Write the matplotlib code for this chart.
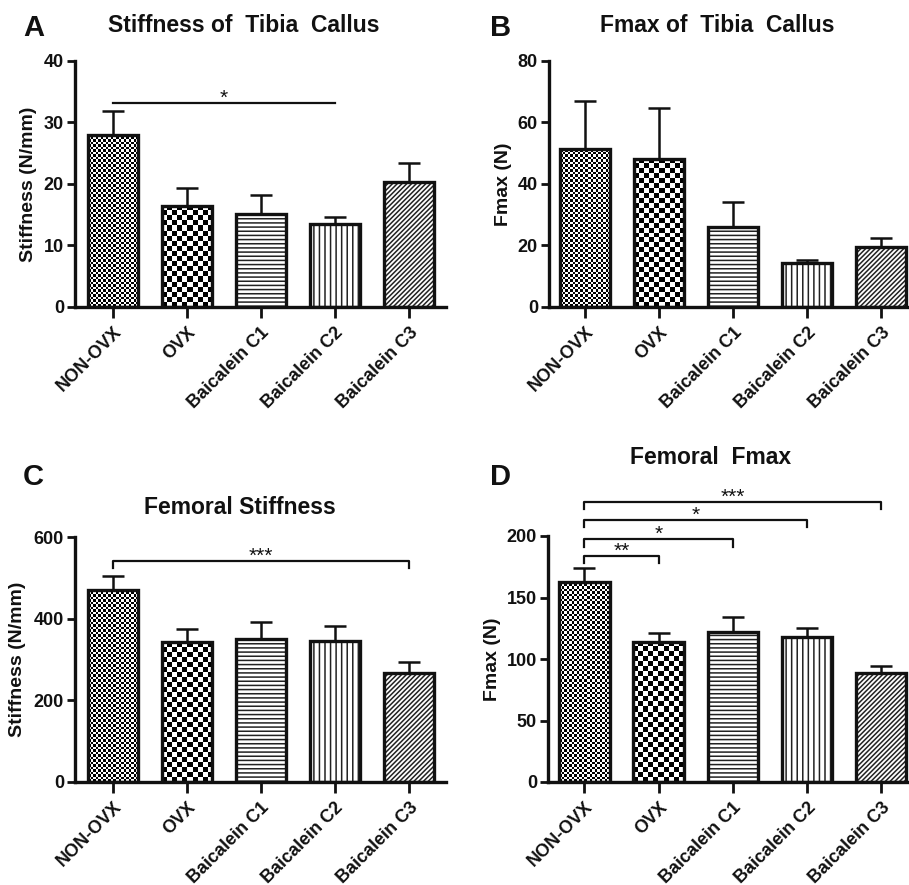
import numpy as np
import matplotlib
matplotlib.use("Agg")
import matplotlib.pyplot as plt

plt.rcParams['font.family'] = ['Liberation Sans', 'DejaVu Sans']
plt.rcParams['hatch.linewidth'] = 1.1

groups = ["NON-OVX", "OVX", "Baicalein C1", "Baicalein C2", "Baicalein C3"]

# Panel A: Stiffness of Tibia Callus
a_mean = [28.0, 16.5, 15.1, 13.5, 20.4]
a_err = [3.9, 2.8, 3.1, 1.2, 3.0]
# Panel B: Fmax of Tibia Callus
b_mean = [51.3, 48.2, 26.1, 14.2, 19.6]
b_err = [15.8, 16.4, 8.0, 1.0, 2.8]
# Panel C: Femoral Stiffness
c_mean = [471, 342, 349, 345, 266]
c_err = [34, 32, 42, 37, 28]
# Panel D: Femoral Fmax
d_mean = [163, 114, 122, 118, 88.6]
d_err = [11.3, 7.5, 12.5, 7.0, 6.0]

a_ticks = [0, 10, 20, 30, 40]
b_ticks = [0, 20, 40, 60, 80]
c_ticks = [0, 200, 400, 600]
d_ticks = [0, 50, 100, 150, 200]

# significance: (group_from, group_to, height, drop, label)
a_sig = [(0, 3, 33.2, 0, "*")]
b_sig = []
c_sig = [(0, 4, 541, 17, "***")]
d_sig = [(0, 1, 183.5, 5.5, "**"), (0, 2, 197.3, 6, "*"),
         (0, 3, 213.3, 6, "*"), (0, 4, 227.6, 6, "***")]

W, H = 909, 885
fig = plt.figure(figsize=(W / 100, H / 100), dpi=100)


def fr(l, r, b, t):
    return [l / W, 1 - b / H, (r - l) / W, (b - t) / H]


panels = [
    dict(rect=fr(75, 446, 307, 61), mean=a_mean, err=a_err, ticks=a_ticks,
         ylab="Stiffness (N/mm)", sig=a_sig, xlim=(-0.51, 4.50), labx=-0.102,
         title="Stiffness of  Tibia  Callus", tpos=(244, 25), letter="A", lpos=(23, 28)),
    dict(rect=fr(549, 909, 307, 61), mean=b_mean, err=b_err, ticks=b_ticks,
         ylab="Fmax (N)", sig=b_sig, xlim=(-0.49, 4.375), labx=-0.103,
         title="Fmax of  Tibia  Callus", tpos=(717, 25), letter="B", lpos=(490, 28)),
    dict(rect=fr(75, 446, 782, 537), mean=c_mean, err=c_err, ticks=c_ticks,
         ylab="Stiffness (N/mm)", sig=c_sig, xlim=(-0.51, 4.50), labx=-0.132,
         title="Femoral Stiffness", tpos=(240, 507), letter="C", lpos=(23, 477)),
    dict(rect=fr(548, 909, 782, 536), mean=d_mean, err=d_err, ticks=d_ticks,
         ylab="Fmax (N)", sig=d_sig, xlim=(-0.49, 4.375), labx=-0.130,
         title="Femoral  Fmax", tpos=(711, 458), letter="D", lpos=(490, 477)),
]

hatches = [None, None, '----', '|||', '///////']
checker_px = [2.5, 5.0, None, None, None]


def checker(ax, bar, cell):
    x0, y0 = bar.get_x(), bar.get_y()
    w, h = bar.get_width(), bar.get_height()
    (px0, py0), (px1, py1) = ax.transData.transform([(x0, y0), (x0 + w, y0 + h)])
    nx = max(1, int(round((px1 - px0) / cell)))
    ny = max(1, int(round((py1 - py0) / cell)))
    arr = np.add.outer(np.arange(ny), np.arange(nx)) % 2
    im = ax.imshow(arr, extent=(x0, x0 + w, y0, y0 + h), cmap='gray', vmin=0, vmax=1,
                   interpolation='nearest', aspect='auto', origin='lower', zorder=2)
    im.set_clip_path(bar)


for p in panels:
    ax = fig.add_axes(p['rect'])
    x = np.arange(len(groups))
    ymax = p['ticks'][-1]
    ax.set_xlim(*p['xlim'])
    ax.set_ylim(0, ymax)
    ax.set_autoscale_on(False)
    bars = ax.bar(x, p['mean'], width=0.68, color='white', edgecolor='none', zorder=1)
    for i, b in enumerate(bars):
        if hatches[i]:
            b.set_hatch(hatches[i])
            b.set_edgecolor('#222222')
        if checker_px[i]:
            checker(ax, b, checker_px[i])
    ax.bar(x, p['mean'], width=0.68, fill=False, edgecolor='#111111', linewidth=2.4, zorder=3)
    ax.errorbar(x, p['mean'], yerr=[np.zeros(len(x)), p['err']], fmt='none',
                ecolor='#111111', elinewidth=1.8, capsize=8, capthick=1.8, zorder=0.9)
    ax.set_xlim(*p['xlim'])
    ax.set_ylim(0, ymax)
    for side in ['top', 'right']:
        ax.spines[side].set_visible(False)
    for side in ['left', 'bottom']:
        ax.spines[side].set_linewidth(2.4)
        ax.spines[side].set_color('#111111')
    ax.set_yticks(p['ticks'])
    ax.set_xticks(x)
    ax.set_xticklabels(groups, rotation=45, ha='right', va='top', rotation_mode='anchor',
                       fontsize=13, fontweight='bold', color='#111111')
    for lab in ax.get_yticklabels():
        lab.set_fontsize(13)
        lab.set_fontweight('bold')
        lab.set_color('#111111')
    ax.tick_params(axis='y', length=6, width=2, colors='#111111', pad=2)
    ax.tick_params(axis='x', length=8, width=2, colors='#111111', pad=4)
    ax.set_ylabel(p['ylab'], fontsize=14, fontweight='bold', color='#111111')
    ax.yaxis.set_label_coords(p['labx'], 0.5)
    for (g0, g1, yh, drop, lab) in p['sig']:
        ax.plot([g0, g0, g1, g1], [yh - drop, yh, yh, yh - drop], color='#111111',
                lw=1.6, clip_on=False, zorder=4)
        ax.annotate(lab, xy=((g0 + g1) / 2, yh), xytext=(0, -1), textcoords='offset pixels',
                    ha='center', va='baseline', fontsize=15, color='#111111',
                    annotation_clip=False)
    fig.text(p['tpos'][0] / W, 1 - p['tpos'][1] / H, p['title'], ha='center', va='center',
             fontsize=16.5, fontweight='bold', color='#111111')
    fig.text(p['lpos'][0] / W, 1 - p['lpos'][1] / H, p['letter'], ha='left', va='center',
             fontsize=21, fontweight='bold', color='#111111')

fig.savefig("out.png", dpi=100)
